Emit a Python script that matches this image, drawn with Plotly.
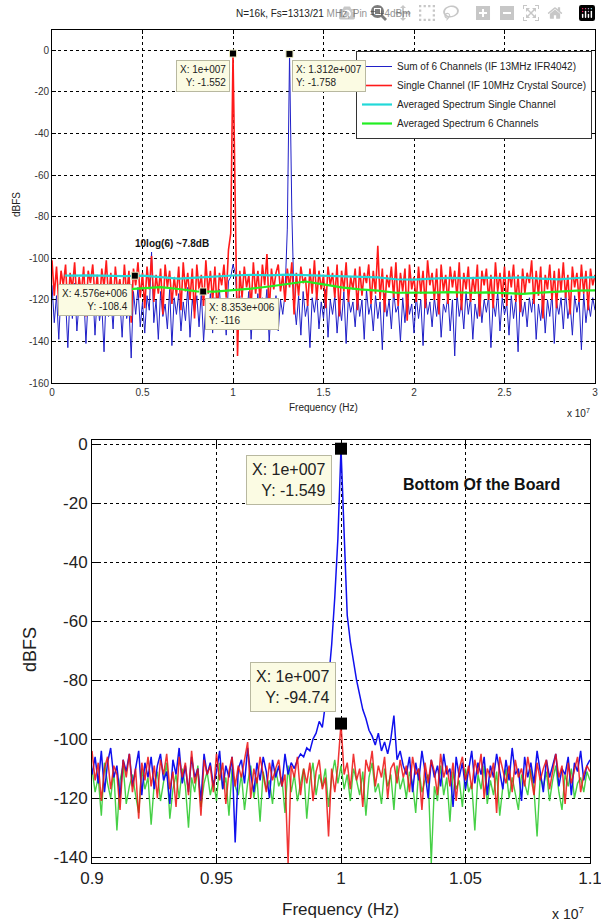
import numpy as np
import plotly.graph_objects as go

# ---------------- TOP PANEL DATA (full band, 0..30 MHz) ----------------
top_step = 1.25e5
red_top = [
    -101, -118, -104, -122, -106, -113, -103, -126, -107, -115, -102, -121, -109, -117, -104, -128, -106, -112, -103, -119,
    -108, -123, -105, -114, -101, -120, -107, -125, -104, -116, -110, -122, -103, -118, -106, -131, -105, -113, -102, -119,
    -107, -124, -104, -115, -99, -121, -108, -117, -105, -127, -103, -114, -106, -122, -109, -118, -104, -125, -102, -116,
    -107, -120, -105, -129, -103, -115, -108, -123, -101, -117, -106, -121, -104, -126, -107, -113, -103, -119, -96, -88,
    -1.552, -84, -147, -106, -119, -104, -114, -108, -124, -102, -117, -106, -121, -103, -113, -98, -126, -105, -115, -107,
    -103, -116, -108, -121, -105, -114, -102, -127, -107, -118, -104, -112, -109, -123, -105, -117, -101, -120, -106, -115,
    -108, -124, -104, -113, -107, -119, -103, -128, -106, -116, -102, -121, -109, -115, -105, -125, -104, -118, -107, -112,
    -103, -122, -106, -117, -94, -120, -105, -126, -108, -114, -104, -119, -102, -123, -107, -116, -105, -130, -103, -115,
    -109, -121, -104, -117, -106, -124, -101, -113, -107, -120, -105, -127, -103, -116, -108, -122, -104, -114, -106, -119,
    -102, -125, -107, -115, -104, -121, -109, -117, -103, -128, -106, -113, -105, -120, -108, -124, -102, -116, -107, -119,
    -104, -123, -106, -114, -103, -121, -108, -126, -105, -117, -107, -112, -101, -122, -106, -118, -104, -129, -108, -115,
    -103, -120, -106, -124, -105, -116, -102, -119, -108, -127, -104, -114, -107, -121, -103, -117, -106, -125, -105, -113,
    -108,
]
blue_top = [
    -113, -131, -118, -139, -115, -126, -120, -143, -117, -129, -112, -135, -121, -127, -116, -141, -119, -124, -114, -137,
    -118, -130, -122, -145, -115, -128, -119, -134, -113, -126, -120, -138, -117, -129, -123, -148, -116, -127, -114, -133,
    -121, -136, -118, -125, -97, -131, -120, -139, -116, -128, -122, -134, -115, -142, -119, -127, -117, -135, -121, -130,
    -114, -138, -120, -126, -118, -133, -116, -140, -122, -129, -117, -136, -119, -125, -115, -131, -121, -137, -111, -109,
    -103, -107, -124, -118, -133, -120, -127, -116, -139, -121, -128, -117, -134, -119, -126, -115, -140, -122, -129, -118,
    -135, -120, -127, -117, -86, -1.758, -78, -121, -132, -118, -137, -116, -128, -122, -143, -119, -126, -117, -134, -121,
    -129, -115, -138, -120, -127, -118, -136, -122, -130, -116, -141, -119, -126, -121, -133, -117, -128, -120, -139, -115,
    -127, -122, -135, -118, -129, -121, -144, -117, -128, -120, -134, -116, -126, -123, -140, -119, -131, -117, -127, -122,
    -136, -118, -129, -120, -142, -116, -127, -121, -133, -119, -128, -117, -138, -122, -126, -118, -135, -120, -147, -117,
    -128, -121, -134, -116, -127, -119, -139, -122, -129, -117, -131, -120, -126, -118, -143, -121, -128, -116, -135, -119,
    -127, -122, -137, -118, -129, -120, -145, -117, -128, -121, -133, -119, -126, -116, -139, -122, -130, -118, -136, -120,
    -128, -117, -141, -121, -127, -119, -134, -116, -129, -122, -137, -118, -126, -120, -144, -117, -131, -121, -128, -119,
    -125,
]
avg_x = [7e5] + [k * 1e6 for k in range(1, 31)]
cyan_avg = [-108.3, -108.4, -108.2, -108.5, -108.6, -108.4, -109.0, -109.8, -109.3, -108.7, -108.3,
            -108.0, -108.2, -107.9, -108.1, -108.3, -108.6, -108.9, -109.2, -110.1, -110.3,
            -109.8, -109.4, -109.6, -109.3, -109.5, -109.2, -109.8, -110.2, -109.5, -109.1]
green_avg = [-116.0, -115.8, -115.4, -115.6, -115.1, -114.6, -113.9, -114.8, -115.9, -116.1, -115.4,
             -114.6, -113.6, -112.4, -111.2, -112.6, -114.0, -115.0, -115.6, -116.6, -116.7,
             -116.5, -116.3, -116.6, -116.4, -116.8, -117.1, -116.5, -116.0, -115.6, -115.5]
x_top = np.arange(len(red_top)) * top_step

# ---------------- BOTTOM PANEL DATA (zoom 9..11 MHz) ----------------
bot_start = 0.9e7
bot_step = 1.25e4
blue_bot = [
    -112, -106, -115, -104, -118, -108, -103, -113, -109, -120, -107, -111, -105, -116, -110, -104, -119, -108, -113, -106,
    -117, -109, -105, -114, -111, -122, -107, -112, -103, -115, -109, -118, -106, -113, -110, -121, -105, -112, -108, -116,
    -111, -104, -117, -109, -113, -106, -135, -110, -107, -115, -103, -112, -118, -108, -114, -106, -111, -120, -107, -113,
    -109, -116, -105, -112, -108, -110, -107, -105,
    -106, -103, -104, -100, -98, -94, -96, -88, -80, -68, -52, -32, -1.549, -30, -58, -67, -74, -80, -85, -90, -93, -97,
    -99, -102, -98, -104, -101, -105, -100, -92, -107, -104, -109,
    -112, -106, -118, -108, -114, -104, -111, -120, -107, -113, -109, -116, -105, -112, -110, -123, -106, -113, -108, -117,
    -110, -104, -115, -108, -112, -106, -119, -109, -113, -105, -111, -117, -107, -114, -103, -112, -110, -121, -106, -113,
    -108, -115, -104, -111, -118, -107, -113, -109, -105, -116, -110, -112, -106, -119, -108, -111, -104, -114, -109, -107,
]
red_bot = [
    -104, -114, -108, -121, -110, -106, -117, -109, -112, -124, -107, -113, -105, -118, -110, -127, -108, -114, -106, -116,
    -109, -120, -107, -112, -105, -117, -111, -123, -106, -113, -108, -119, -104, -115, -110, -126, -107, -112, -109, -118,
    -105, -114, -108, -122, -111, -106, -116, -109, -113, -107, -101, -120, -110, -115, -106, -112, -118, -108, -114, -110,
    -107, -116, -112, -142, -109, -113, -106, -119, -110, -115, -108, -121, -111, -107, -117, -113, -133, -110, -118, -109,
    -94.74, -112, -108, -117, -105, -114, -110, -123, -107, -111, -104, -116, -109, -113, -106, -120, -110, -108, -115, -107,
    -113, -109, -118, -106, -112, -110, -124, -108, -115, -107, -111, -119, -105, -113, -109, -116, -108, -121, -110, -106,
    -114, -109, -117, -107, -112, -105, -120, -110, -113, -108, -125, -106, -111, -115, -109, -118, -107, -113, -110, -116,
    -106, -112, -119, -108, -114, -110, -107, -117, -111, -105, -113, -109, -122, -108, -115, -110, -106, -118, -112, -109,
    -111,
]
green_bot = [
    -110, -118, -113, -126, -108, -115, -120, -111, -131, -114, -109, -122, -116, -112, -119, -125, -110, -117, -113, -129,
    -115, -111, -121, -114, -108, -127, -117, -112, -120, -110, -116, -130, -113, -118, -109, -123, -115, -111, -119, -114,
    -121, -108, -117, -113, -126, -110, -116, -119, -112, -124, -115, -109, -120, -113, -128, -111, -117, -114, -122, -110,
    -116, -113, -125, -109, -118, -112, -121, -115, -110, -127, -114, -108, -119, -112, -116, -110, -123, -113, -107, -115,
    -109, -117, -112, -121, -110, -114, -119, -111, -126, -113, -108, -118, -115, -122, -110, -116, -112, -124, -109, -117,
    -113, -120, -111, -115, -125, -110, -118, -114, -112, -142, -116, -121, -109, -119, -113, -128, -111, -117, -114, -123,
    -110, -118, -115, -131, -112, -117, -109, -122, -114, -119, -111, -126, -116, -110, -120, -113, -118, -124, -112, -115,
    -119, -110, -117, -133, -113, -116, -111, -121, -114, -109, -118, -124, -112, -116, -110, -120, -115, -113, -118, -111,
    -114,
]
x_bot = bot_start + np.arange(len(red_bot)) * bot_step

# data tips
tips_top_x = [1e7, 1.312e7, 4.576e6, 8.353e6]
tips_top_y = [-1.552, -1.758, -108.4, -116]
tips_bot_x = [1e7, 1e7]
tips_bot_y = [-1.549, -94.74]

top_xticks = [0, 0.5e7, 1e7, 1.5e7, 2e7, 2.5e7, 3e7]
top_xlabels = ["0", "0.5", "1", "1.5", "2", "2.5", "3"]
top_yticks = [0, -20, -40, -60, -80, -100, -120, -140, -160]
bot_xticks = [0.9e7, 0.95e7, 1e7, 1.05e7, 1.1e7]
bot_xlabels = ["0.9", "0.95", "1", "1.05", "1.1"]
bot_yticks = [0, -20, -40, -60, -80, -100, -120, -140]

SMALL = "Liberation Sans Narrow, Liberation Sans, Arial, sans-serif"
BIG = "Liberation Sans, Arial, sans-serif"

# The figure fills the whole window; the page's body margin is removed by a post script.
FIG_W, FIG_H = 601, 924


def px(p):
    return p / FIG_W


def py(p):
    return 1 - p / FIG_H


fig = go.Figure()
# top traces
fig.add_trace(go.Scatter(x=x_top, y=blue_top, mode="lines", line=dict(color="#2020c8", width=1),
                         name="Sum of 6 Channels (IF 13MHz IFR4042)", xaxis="x", yaxis="y"))
fig.add_trace(go.Scatter(x=x_top, y=red_top, mode="lines", line=dict(color="#ff1a1a", width=1.6),
                         name="Single Channel (IF 10MHz Crystal Source)", xaxis="x", yaxis="y"))
fig.add_trace(go.Scatter(x=avg_x, y=cyan_avg, mode="lines", line=dict(color="#22d8d8", width=2.2),
                         name="Averaged Spectrum Single Channel", xaxis="x", yaxis="y"))
fig.add_trace(go.Scatter(x=avg_x, y=green_avg, mode="lines", line=dict(color="#22ee22", width=2.2),
                         name="Averaged Spectrum 6 Channels", xaxis="x", yaxis="y"))
fig.add_trace(go.Scatter(x=tips_top_x, y=tips_top_y, mode="markers", showlegend=False,
                         marker=dict(symbol="square", size=7, color="black", line=dict(color="#e8e8c0", width=1)),
                         xaxis="x", yaxis="y"))
# bottom traces
fig.add_trace(go.Scatter(x=x_bot, y=green_bot, mode="lines", line=dict(color="#33cc33", width=1.4),
                         opacity=0.9, showlegend=False, xaxis="x2", yaxis="y2"))
fig.add_trace(go.Scatter(x=x_bot, y=blue_bot, mode="lines", line=dict(color="#1010ee", width=1.5),
                         showlegend=False, xaxis="x2", yaxis="y2"))
fig.add_trace(go.Scatter(x=x_bot, y=red_bot, mode="lines", line=dict(color="#ee1111", width=1.5),
                         opacity=0.85, showlegend=False, xaxis="x2", yaxis="y2"))
fig.add_trace(go.Scatter(x=tips_bot_x, y=tips_bot_y, mode="markers", showlegend=False,
                         marker=dict(symbol="square", size=12, color="black"), xaxis="x2", yaxis="y2"))

axis_common = dict(showline=True, linecolor="black", linewidth=1, mirror="ticks", ticks="inside",
                   tickcolor="black", showgrid=True, gridcolor="black", griddash="dot", gridwidth=1,
                   zeroline=False, automargin=False, ticklabeloverflow="allow")

fig.update_layout(
    template="none",
    width=FIG_W, height=FIG_H, margin=dict(l=0, r=0, t=0, b=0, autoexpand=False),
    paper_bgcolor="white", plot_bgcolor="white",
    xaxis=dict(domain=[px(52), px(595)], range=[0, 3e7], anchor="y", tickvals=top_xticks,
               ticktext=top_xlabels, ticklen=4, tickfont=dict(family=SMALL, size=10, color="#333"),
               **axis_common),
    yaxis=dict(domain=[py(383), py(29.5)], range=[-160, 10], anchor="x", tickvals=top_yticks,
               ticktext=[str(v) for v in top_yticks], ticklen=4,
               tickfont=dict(family=SMALL, size=10, color="#333"), **axis_common),
    xaxis2=dict(domain=[px(92), px(590)], range=[0.9e7, 1.1e7], anchor="y2", tickvals=bot_xticks,
                ticktext=bot_xlabels, ticklen=6, tickfont=dict(family=BIG, size=17, color="#222"), **axis_common),
    yaxis2=dict(domain=[py(863), py(440)], range=[-142, 1.4], anchor="x2", tickvals=bot_yticks,
                ticktext=[str(v) for v in bot_yticks], ticklen=6,
                tickfont=dict(family=BIG, size=17, color="#222"), **axis_common),
    legend=dict(x=px(356), y=py(51), xanchor="left", yanchor="top", bgcolor="white",
                bordercolor="#333", borderwidth=1, font=dict(family=SMALL, size=10, color="#222"),
                tracegroupgap=0),
    showlegend=True,
)

tip_style = dict(bgcolor="#fbfbe3", bordercolor="#b8b8a0", borderwidth=1, showarrow=False)
ann = [
    # top title & labels
    dict(x=px(323), y=py(14), xref="paper", yref="paper", xanchor="center", yanchor="middle",
         text="N=16k, Fs=1313/21 MHz, Pin = +4dBm", showarrow=False, font=dict(family=SMALL, size=10, color="#222")),
    dict(x=px(323), y=py(408), xref="paper", yref="paper", xanchor="center", yanchor="middle",
         text="Frequency (Hz)", showarrow=False, font=dict(family=SMALL, size=10, color="#222")),
    dict(x=px(578), y=py(413), xref="paper", yref="paper", xanchor="center", yanchor="middle",
         text="x 10<sup>7</sup>", showarrow=False, font=dict(family=SMALL, size=10, color="#222")),
    dict(x=px(16), y=py(205), xref="paper", yref="paper", xanchor="center", yanchor="middle",
         text="dBFS", textangle=-90, showarrow=False, font=dict(family=SMALL, size=10, color="#222")),
    dict(x=px(172), y=py(243), xref="paper", yref="paper", xanchor="center", yanchor="middle",
         text="<b>10log(6) ~7.8dB</b>", showarrow=False, font=dict(family=SMALL, size=10, color="#111")),
    # bottom labels
    dict(x=px(340), y=py(909), xref="paper", yref="paper", xanchor="center", yanchor="middle",
         text="Frequency (Hz)", showarrow=False, font=dict(family=BIG, size=17, color="#222")),
    dict(x=px(568), y=py(913), xref="paper", yref="paper", xanchor="center", yanchor="middle",
         text="x 10<sup>7</sup>", showarrow=False, font=dict(family=BIG, size=14, color="#222")),
    dict(x=px(30), y=py(650), xref="paper", yref="paper", xanchor="center", yanchor="middle",
         text="dBFS", textangle=-90, showarrow=False, font=dict(family=BIG, size=18, color="#222")),
    dict(x=px(481), y=py(484), xref="paper", yref="paper", xanchor="center", yanchor="middle",
         text="<b>Bottom Of the Board</b>", showarrow=False, font=dict(family=BIG, size=16, color="#111")),
    # top data tips
    dict(x=tips_top_x[0], y=-4.8, xref="x", yref="y", xanchor="right", yanchor="top", xshift=-3, align="right",
         borderpad=3, text="X: 1e+007<br>Y: -1.552", font=dict(family=SMALL, size=10, color="#222"), **tip_style),
    dict(x=tips_top_x[1], y=-4.8, xref="x", yref="y", xanchor="left", yanchor="top", xshift=3, align="left",
         borderpad=3, text="X: 1.312e+007<br>Y: -1.758", font=dict(family=SMALL, size=10, color="#222"), **tip_style),
    dict(x=tips_top_x[2], y=-112.3, xref="x", yref="y", xanchor="right", yanchor="top", xshift=-3, align="right",
         borderpad=3, text="X: 4.576e+006<br>Y: -108.4", font=dict(family=SMALL, size=10, color="#222"), **tip_style),
    dict(x=tips_top_x[3], y=-119, xref="x", yref="y", xanchor="left", yanchor="top", xshift=2, align="left",
         borderpad=3, text="X: 8.353e+006<br>Y: -116", font=dict(family=SMALL, size=10, color="#222"), **tip_style),
    # bottom data tips
    dict(x=0.9962e7, y=-3.7, xref="x2", yref="y2", xanchor="right", yanchor="top", align="right", borderpad=5,
         text="X: 1e+007<br>Y: -1.549", font=dict(family=BIG, size=16, color="#222"), **tip_style),
    dict(x=0.998e7, y=-73.9, xref="x2", yref="y2", xanchor="right", yanchor="top", align="right", borderpad=5,
         text="X: 1e+007<br>Y: -94.74", font=dict(family=BIG, size=16, color="#222"), **tip_style),
]
fig.update_layout(annotations=ann)

fig.write_html("out.html",
               post_script="document.body.style.margin='0';document.body.style.overflow='hidden';")
